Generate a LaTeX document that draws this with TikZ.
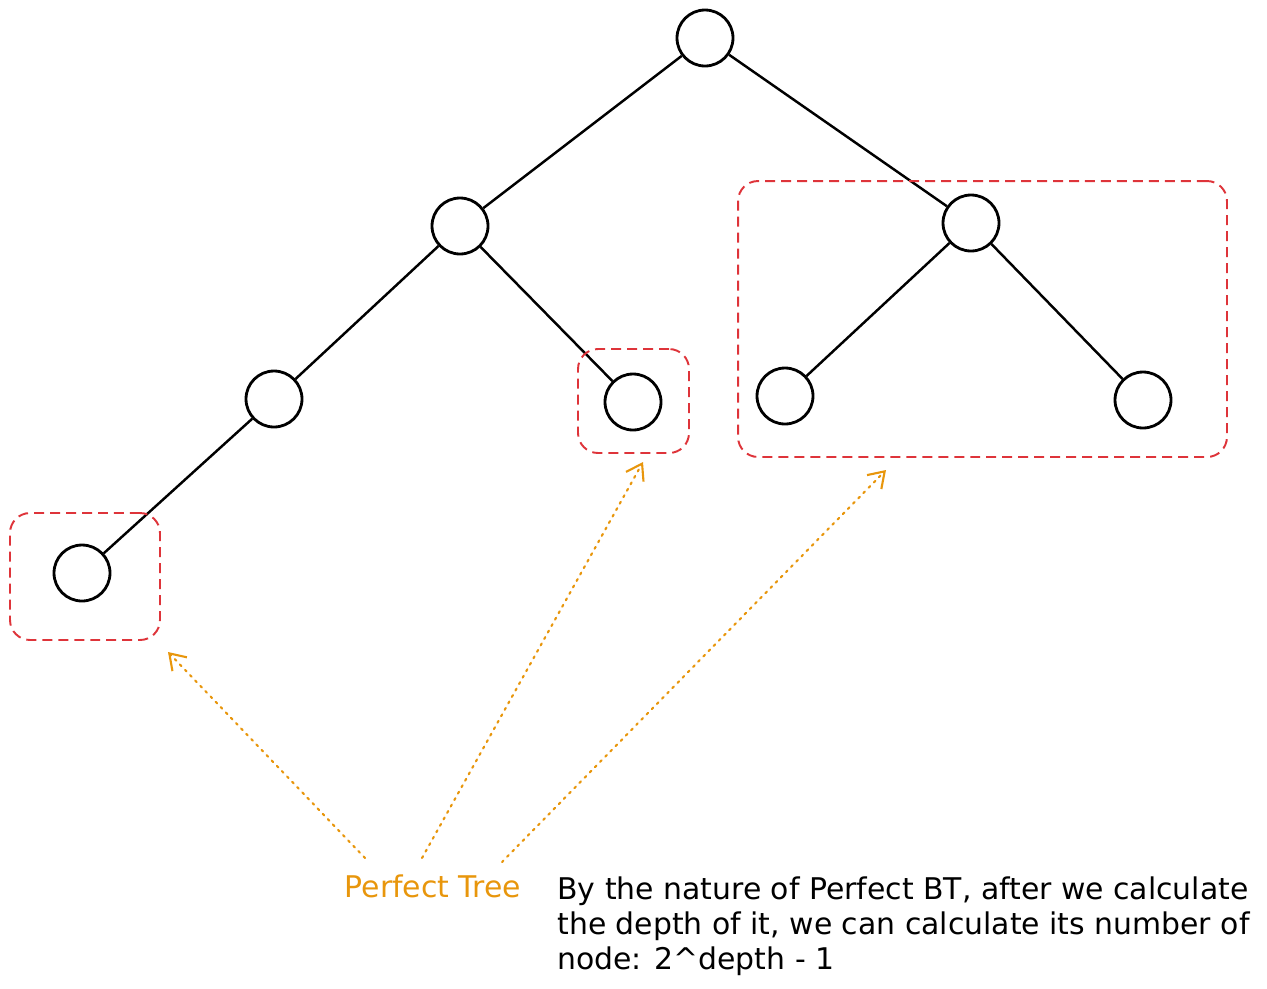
\documentclass[tikz,border=0pt]{standalone}
\usepackage{fontspec}
\setmainfont{DejaVu Sans}
\usepackage{tikz}
\usetikzlibrary{positioning,arrows.meta}
\definecolor{boxred}{RGB}{222,52,58}
\definecolor{noteorange}{RGB}{232,150,12}

\begin{document}
\begin{tikzpicture}[x=0.02cm,y=-0.02cm,
  tnode/.style={circle,draw=black,line width=1.6pt,minimum size=1.12cm,inner sep=0pt},
  tedge/.style={line width=1.4pt,black},
  subbox/.style={draw=boxred,line width=1.1pt,dash pattern=on 0.2cm off 0.12cm,rounded corners=0.4cm,inner sep=0pt},
  hint/.style={noteorange,line width=1.2pt,dash pattern=on 1.2pt off 3pt,line cap=round,-{Straight Barb[length=0.3cm,width=0.4cm,line width=1.2pt]}}]
\useasboundingbox (0,0) rectangle (1267,988);
% ---------------- tree ----------------
\node[tnode] (root) at (705,38) {};
\node[tnode] (a)    at (460,226) {};
\node[tnode] (b)    at (971,223) {};
\node[tnode] (aa)   at (274,399) {};
\node[tnode] (ab)   at (633,402) {};
\node[tnode] (ba)   at (785,396) {};
\node[tnode] (bb)   at (1143,400) {};
\node[tnode] (aaa)  at (82,573) {};
\foreach \u/\v in {root/a,root/b,a/aa,a/ab,aa/aaa,b/ba,b/bb}
  \draw[tedge] (\u) -- (\v);
% ---------------- perfect subtrees ----------------
\node[subbox,minimum width=3cm,minimum height=2.54cm] (box1) at (85,576.5) {};
\node[subbox,minimum width=2.22cm,minimum height=2.08cm] (box2) at (633.5,401) {};
\node[subbox,minimum width=9.78cm,minimum height=5.52cm] (box3) at (982.5,319) {};
% ---------------- notes ----------------
\node[noteorange,font=\fontsize{17}{20}\selectfont] (ptree) at (433,886) {Perfect Tree};
\node[anchor=north west,align=left,font=\fontsize{17}{20}\selectfont,inner sep=0pt] (note) at (557,876)
  {By the nature of Perfect BT, after we calculate\\the depth of it, we can calculate its number of\\node: 2\textasciicircum depth - 1};
\coordinate (s1) at (365,858); \coordinate (s2) at (422,858); \coordinate (s3) at (502,862);
\coordinate (t1) at (168,652); \coordinate (t2) at (643,462); \coordinate (t3) at (886,470);
\foreach \k in {1,2,3}
  \draw[hint] (s\k) -- (t\k);
\end{tikzpicture}
\end{document}
